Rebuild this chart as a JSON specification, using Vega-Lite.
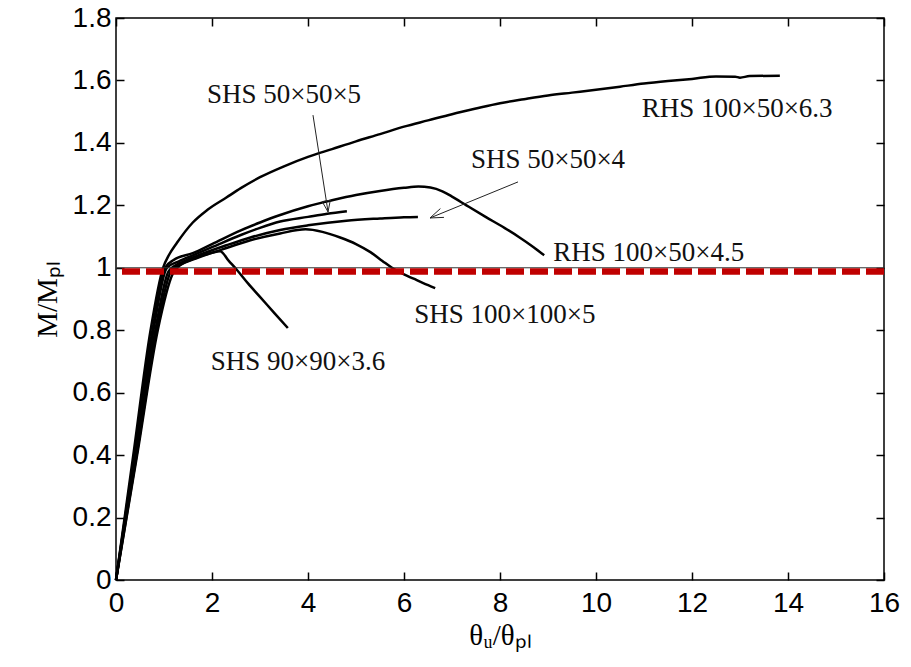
{
  "$schema": "https://vega.github.io/schema/vega-lite/v6.json",
  "width": 768,
  "height": 562,
  "autosize": {"type": "none"},
  "padding": {"left": 116, "top": 18, "right": 27, "bottom": 87},
  "background": "white",
  "config": {
    "view": {"stroke": "black", "strokeWidth": 1.5},
    "axis": {
      "grid": false,
      "domain": false,
      "labelFlush": false,
      "labelOverlap": false,
      "tickColor": "black",
      "tickWidth": 1.5,
      "tickSize": -8,
      "labelFont": "Liberation Sans",
      "labelFontSize": 28,
      "labelColor": "black",
      "titleFont": "Liberation Serif",
      "titleFontSize": 29,
      "titleFontWeight": "normal",
      "titleColor": "black"
    }
  },
  "datasets": {
    "curves": [
      {"s": "RHS 100x50x6.3", "x": 0, "y": 0},
      {"s": "RHS 100x50x6.3", "x": 0.36, "y": 0.4},
      {"s": "RHS 100x50x6.3", "x": 0.72, "y": 0.8},
      {"s": "RHS 100x50x6.3", "x": 0.98, "y": 1.0},
      {"s": "RHS 100x50x6.3", "x": 1.1, "y": 1.04},
      {"s": "RHS 100x50x6.3", "x": 1.27, "y": 1.08},
      {"s": "RHS 100x50x6.3", "x": 1.6, "y": 1.145},
      {"s": "RHS 100x50x6.3", "x": 1.9, "y": 1.185},
      {"s": "RHS 100x50x6.3", "x": 2.3, "y": 1.225},
      {"s": "RHS 100x50x6.3", "x": 2.6, "y": 1.255},
      {"s": "RHS 100x50x6.3", "x": 3.0, "y": 1.29},
      {"s": "RHS 100x50x6.3", "x": 3.5, "y": 1.325},
      {"s": "RHS 100x50x6.3", "x": 4.0, "y": 1.355},
      {"s": "RHS 100x50x6.3", "x": 4.5, "y": 1.38},
      {"s": "RHS 100x50x6.3", "x": 5.0, "y": 1.405},
      {"s": "RHS 100x50x6.3", "x": 5.5, "y": 1.428},
      {"s": "RHS 100x50x6.3", "x": 6.0, "y": 1.452},
      {"s": "RHS 100x50x6.3", "x": 6.5, "y": 1.472},
      {"s": "RHS 100x50x6.3", "x": 7.0, "y": 1.492},
      {"s": "RHS 100x50x6.3", "x": 7.5, "y": 1.51},
      {"s": "RHS 100x50x6.3", "x": 8.0, "y": 1.527},
      {"s": "RHS 100x50x6.3", "x": 8.5, "y": 1.54},
      {"s": "RHS 100x50x6.3", "x": 9.0, "y": 1.552},
      {"s": "RHS 100x50x6.3", "x": 9.5, "y": 1.561},
      {"s": "RHS 100x50x6.3", "x": 10.0, "y": 1.57},
      {"s": "RHS 100x50x6.3", "x": 10.5, "y": 1.58},
      {"s": "RHS 100x50x6.3", "x": 11.0, "y": 1.59},
      {"s": "RHS 100x50x6.3", "x": 11.5, "y": 1.598},
      {"s": "RHS 100x50x6.3", "x": 12.0, "y": 1.605},
      {"s": "RHS 100x50x6.3", "x": 12.5, "y": 1.613},
      {"s": "RHS 100x50x6.3", "x": 12.9, "y": 1.612},
      {"s": "RHS 100x50x6.3", "x": 13.0, "y": 1.609},
      {"s": "RHS 100x50x6.3", "x": 13.2, "y": 1.614},
      {"s": "RHS 100x50x6.3", "x": 13.83, "y": 1.615},

      {"s": "RHS 100x50x4.5", "x": 0, "y": 0},
      {"s": "RHS 100x50x4.5", "x": 0.38, "y": 0.4},
      {"s": "RHS 100x50x4.5", "x": 0.76, "y": 0.8},
      {"s": "RHS 100x50x4.5", "x": 1.02, "y": 1.0},
      {"s": "RHS 100x50x4.5", "x": 1.2, "y": 1.025},
      {"s": "RHS 100x50x4.5", "x": 1.6, "y": 1.047},
      {"s": "RHS 100x50x4.5", "x": 2.0, "y": 1.076},
      {"s": "RHS 100x50x4.5", "x": 2.6, "y": 1.12},
      {"s": "RHS 100x50x4.5", "x": 3.0, "y": 1.145},
      {"s": "RHS 100x50x4.5", "x": 3.42, "y": 1.169},
      {"s": "RHS 100x50x4.5", "x": 4.0, "y": 1.197},
      {"s": "RHS 100x50x4.5", "x": 4.5, "y": 1.216},
      {"s": "RHS 100x50x4.5", "x": 5.0, "y": 1.233},
      {"s": "RHS 100x50x4.5", "x": 5.5, "y": 1.246},
      {"s": "RHS 100x50x4.5", "x": 6.0, "y": 1.256},
      {"s": "RHS 100x50x4.5", "x": 6.3, "y": 1.26},
      {"s": "RHS 100x50x4.5", "x": 6.55, "y": 1.257},
      {"s": "RHS 100x50x4.5", "x": 6.8, "y": 1.245},
      {"s": "RHS 100x50x4.5", "x": 7.0, "y": 1.228},
      {"s": "RHS 100x50x4.5", "x": 7.3, "y": 1.2},
      {"s": "RHS 100x50x4.5", "x": 7.7, "y": 1.163},
      {"s": "RHS 100x50x4.5", "x": 8.1, "y": 1.127},
      {"s": "RHS 100x50x4.5", "x": 8.4, "y": 1.098},
      {"s": "RHS 100x50x4.5", "x": 8.7, "y": 1.066},
      {"s": "RHS 100x50x4.5", "x": 8.92, "y": 1.04},

      {"s": "SHS 50x50x5", "x": 0, "y": 0},
      {"s": "SHS 50x50x5", "x": 0.39, "y": 0.4},
      {"s": "SHS 50x50x5", "x": 0.78, "y": 0.8},
      {"s": "SHS 50x50x5", "x": 1.06, "y": 1.0},
      {"s": "SHS 50x50x5", "x": 1.3, "y": 1.02},
      {"s": "SHS 50x50x5", "x": 1.6, "y": 1.04},
      {"s": "SHS 50x50x5", "x": 2.0, "y": 1.066},
      {"s": "SHS 50x50x5", "x": 2.6, "y": 1.105},
      {"s": "SHS 50x50x5", "x": 3.0, "y": 1.128},
      {"s": "SHS 50x50x5", "x": 3.42, "y": 1.148},
      {"s": "SHS 50x50x5", "x": 4.0, "y": 1.163},
      {"s": "SHS 50x50x5", "x": 4.4, "y": 1.173},
      {"s": "SHS 50x50x5", "x": 4.81, "y": 1.181},

      {"s": "SHS 50x50x4", "x": 0, "y": 0},
      {"s": "SHS 50x50x4", "x": 0.41, "y": 0.4},
      {"s": "SHS 50x50x4", "x": 0.82, "y": 0.8},
      {"s": "SHS 50x50x4", "x": 1.1, "y": 0.99},
      {"s": "SHS 50x50x4", "x": 1.4, "y": 1.02},
      {"s": "SHS 50x50x4", "x": 1.8, "y": 1.045},
      {"s": "SHS 50x50x4", "x": 2.3, "y": 1.072},
      {"s": "SHS 50x50x4", "x": 2.8, "y": 1.097},
      {"s": "SHS 50x50x4", "x": 3.42, "y": 1.121},
      {"s": "SHS 50x50x4", "x": 4.0, "y": 1.136},
      {"s": "SHS 50x50x4", "x": 4.8, "y": 1.151},
      {"s": "SHS 50x50x4", "x": 5.5, "y": 1.158},
      {"s": "SHS 50x50x4", "x": 6.0, "y": 1.162},
      {"s": "SHS 50x50x4", "x": 6.29, "y": 1.163},

      {"s": "SHS 100x100x5", "x": 0, "y": 0},
      {"s": "SHS 100x100x5", "x": 0.43, "y": 0.4},
      {"s": "SHS 100x100x5", "x": 0.85, "y": 0.8},
      {"s": "SHS 100x100x5", "x": 1.15, "y": 0.99},
      {"s": "SHS 100x100x5", "x": 1.35, "y": 1.01},
      {"s": "SHS 100x100x5", "x": 1.7, "y": 1.032},
      {"s": "SHS 100x100x5", "x": 2.2, "y": 1.058},
      {"s": "SHS 100x100x5", "x": 2.8, "y": 1.088},
      {"s": "SHS 100x100x5", "x": 3.42, "y": 1.11},
      {"s": "SHS 100x100x5", "x": 3.95, "y": 1.123},
      {"s": "SHS 100x100x5", "x": 4.3, "y": 1.115},
      {"s": "SHS 100x100x5", "x": 4.67, "y": 1.097},
      {"s": "SHS 100x100x5", "x": 5.0, "y": 1.076},
      {"s": "SHS 100x100x5", "x": 5.3, "y": 1.05},
      {"s": "SHS 100x100x5", "x": 5.55, "y": 1.022},
      {"s": "SHS 100x100x5", "x": 5.75, "y": 1.0},
      {"s": "SHS 100x100x5", "x": 6.0, "y": 0.979},
      {"s": "SHS 100x100x5", "x": 6.2, "y": 0.965},
      {"s": "SHS 100x100x5", "x": 6.4, "y": 0.951},
      {"s": "SHS 100x100x5", "x": 6.65, "y": 0.935},

      {"s": "SHS 90x90x3.6", "x": 0, "y": 0},
      {"s": "SHS 90x90x3.6", "x": 0.44, "y": 0.4},
      {"s": "SHS 90x90x3.6", "x": 0.87, "y": 0.8},
      {"s": "SHS 90x90x3.6", "x": 1.18, "y": 0.98},
      {"s": "SHS 90x90x3.6", "x": 1.35, "y": 1.01},
      {"s": "SHS 90x90x3.6", "x": 1.6, "y": 1.028},
      {"s": "SHS 90x90x3.6", "x": 2.0, "y": 1.048},
      {"s": "SHS 90x90x3.6", "x": 2.17, "y": 1.053},
      {"s": "SHS 90x90x3.6", "x": 2.35, "y": 1.022},
      {"s": "SHS 90x90x3.6", "x": 2.52, "y": 0.993},
      {"s": "SHS 90x90x3.6", "x": 2.75, "y": 0.95},
      {"s": "SHS 90x90x3.6", "x": 3.0, "y": 0.907},
      {"s": "SHS 90x90x3.6", "x": 3.3, "y": 0.855},
      {"s": "SHS 90x90x3.6", "x": 3.58, "y": 0.807}
    ],
    "arrows": [
      {"a": "a1", "i": 0, "x": 4.104, "y": 1.489},
      {"a": "a1", "i": 1, "x": 4.417, "y": 1.179},
      {"a": "a1h", "i": 0, "x": 4.465, "y": 1.2165},
      {"a": "a1h", "i": 1, "x": 4.417, "y": 1.179},
      {"a": "a1h", "i": 2, "x": 4.296, "y": 1.212},
      {"a": "a1h", "i": 3, "x": 4.465, "y": 1.2165},
      {"a": "a2", "i": 0, "x": 8.375, "y": 1.275},
      {"a": "a2", "i": 1, "x": 6.542, "y": 1.1595},
      {"a": "a2h", "i": 0, "x": 6.833, "y": 1.1614},
      {"a": "a2h", "i": 1, "x": 6.542, "y": 1.1595},
      {"a": "a2h", "i": 2, "x": 6.758, "y": 1.1896}
    ],
    "labels": [
      {"t": "SHS 50×50×5", "x": 3.5, "y": 1.553},
      {"t": "RHS 100×50×6.3", "x": 12.94, "y": 1.51},
      {"t": "SHS 50×50×4", "x": 9.0, "y": 1.345},
      {"t": "RHS 100×50×4.5", "x": 11.1, "y": 1.047},
      {"t": "SHS 100×100×5", "x": 8.1, "y": 0.849},
      {"t": "SHS 90×90×3.6", "x": 3.79, "y": 0.698}
    ],
    "one": [{"k": 1}]
  },
  "layer": [
    {
      "data": {"name": "curves"},
      "mark": {"type": "line", "color": "black", "strokeWidth": 2.5, "interpolate": "monotone"},
      "encoding": {
        "x": {
          "field": "x", "type": "quantitative",
          "scale": {"domain": [0, 16], "nice": false, "zero": false},
          "axis": {"orient": "bottom", "values": [0, 2, 4, 6, 8, 10, 12, 14, 16], "labelPadding": 17, "titlePadding": 4},
          "title": "θᵤ/θₚₗ"
        },
        "y": {
          "field": "y", "type": "quantitative",
          "scale": {"domain": [0, 1.8], "nice": false, "zero": false},
          "axis": {"orient": "left", "values": [0, 0.2, 0.4, 0.6, 0.8, 1, 1.2, 1.4, 1.6, 1.8], "format": "~g", "labelPadding": 13, "titlePadding": 10},
          "title": "M/Mₚₗ"
        },
        "detail": {"field": "s"}
      }
    },
    {
      "data": {"name": "arrows"},
      "mark": {"type": "line", "color": "#222222", "strokeWidth": 1},
      "encoding": {
        "x": {
          "field": "x", "type": "quantitative",
          "axis": {"orient": "top", "values": [0, 2, 4, 6, 8, 10, 12, 14, 16], "labels": false, "title": null}
        },
        "y": {
          "field": "y", "type": "quantitative",
          "axis": {"orient": "right", "values": [0, 0.2, 0.4, 0.6, 0.8, 1, 1.2, 1.4, 1.6, 1.8], "labels": false, "title": null}
        },
        "detail": {"field": "a"},
        "order": {"field": "i"}
      }
    },
    {
      "data": {"name": "labels"},
      "mark": {"type": "text", "font": "Liberation Serif", "fontSize": 27, "color": "#111111", "align": "center", "baseline": "middle"},
      "encoding": {
        "x": {"field": "x", "type": "quantitative", "axis": null},
        "y": {"field": "y", "type": "quantitative", "axis": null},
        "text": {"field": "t"}
      }
    },
    {
      "data": {"name": "one"},
      "mark": {"type": "rule", "color": "#333333", "strokeWidth": 1},
      "encoding": {"y": {"datum": 1, "axis": null}}
    },
    {
      "data": {"name": "one"},
      "mark": {"type": "rule", "color": "#C00000", "strokeWidth": 6.5, "strokeDash": [18, 6]},
      "encoding": {"y": {"datum": 0.988, "axis": null}}
    }
  ],
  "resolve": {"axis": {"x": "independent", "y": "independent"}}
}
